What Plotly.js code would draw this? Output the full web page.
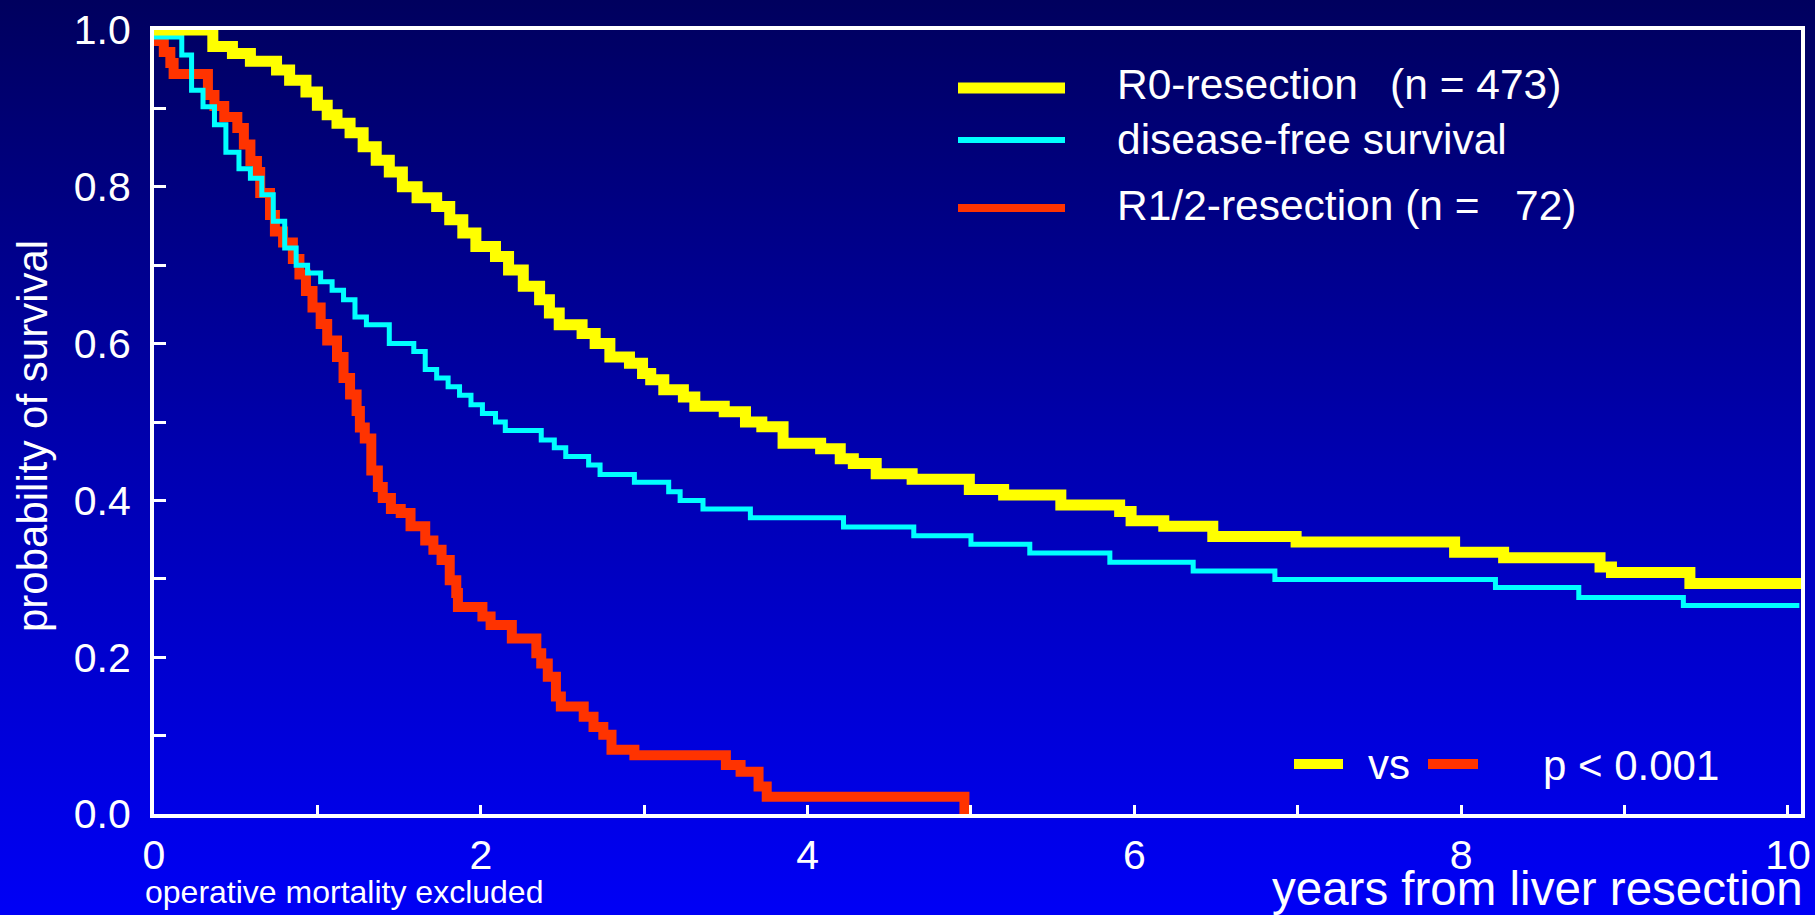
<!DOCTYPE html>
<html>
<head>
<meta charset="utf-8">
<script src="https://cdn.plot.ly/plotly-3.0.1.min.js"></script>
<style>
  html, body { margin: 0; padding: 0; }
  #chart {
    width: 1815px; height: 915px;
    background: linear-gradient(to bottom, #00005e 0%, #0000b0 50%, #0000f6 100%);
  }
</style>
</head>
<body>
<div id="chart"></div>
<script>
// ---- data ----
const yearsR0 = [0, 0.36, 0.48, 0.59, 0.75, 0.83, 0.93, 1.00, 1.06, 1.12, 1.20, 1.28, 1.36, 1.44, 1.52, 1.61, 1.73, 1.81, 1.89, 1.97, 2.09, 2.17, 2.26, 2.36, 2.42, 2.48, 2.62, 2.70, 2.79, 2.91, 2.99, 3.04, 3.12, 3.24, 3.31, 3.49, 3.62, 3.72, 3.85, 4.08, 4.20, 4.28, 4.42, 4.64, 4.99, 5.20, 5.55, 5.91, 5.98, 6.18, 6.48, 6.99, 7.96, 8.26, 8.85, 8.92, 9.40, 10.08];
const survR0  = [1.0, 0.979, 0.970, 0.960, 0.949, 0.936, 0.921, 0.904, 0.892, 0.881, 0.869, 0.851, 0.834, 0.819, 0.800, 0.786, 0.775, 0.758, 0.741, 0.724, 0.711, 0.694, 0.673, 0.656, 0.639, 0.624, 0.613, 0.600, 0.583, 0.575, 0.562, 0.554, 0.541, 0.532, 0.520, 0.513, 0.500, 0.494, 0.473, 0.466, 0.453, 0.447, 0.434, 0.427, 0.414, 0.407, 0.394, 0.386, 0.374, 0.367, 0.354, 0.347, 0.334, 0.327, 0.315, 0.308, 0.294, 0.294];

const yearsDFS = [0, 0.01, 0.17, 0.23, 0.30, 0.37, 0.44, 0.52, 0.59, 0.66, 0.73, 0.80, 0.87, 0.94, 1.02, 1.09, 1.16, 1.23, 1.30, 1.44, 1.59, 1.66, 1.73, 1.80, 1.87, 1.94, 2.01, 2.09, 2.15, 2.37, 2.45, 2.52, 2.66, 2.73, 2.94, 3.15, 3.22, 3.36, 3.65, 4.22, 4.65, 5.00, 5.36, 5.85, 6.36, 6.86, 8.21, 8.72, 9.36, 10.07];
const survDFS  = [1.0, 0.991, 0.968, 0.923, 0.902, 0.879, 0.844, 0.823, 0.811, 0.790, 0.756, 0.722, 0.700, 0.690, 0.679, 0.668, 0.656, 0.634, 0.624, 0.600, 0.590, 0.567, 0.556, 0.545, 0.534, 0.522, 0.511, 0.500, 0.489, 0.477, 0.467, 0.456, 0.445, 0.433, 0.423, 0.411, 0.400, 0.389, 0.378, 0.366, 0.355, 0.344, 0.333, 0.321, 0.310, 0.299, 0.289, 0.276, 0.266, 0.266];

const yearsR12 = [0, 0.03, 0.06, 0.10, 0.12, 0.33, 0.37, 0.43, 0.51, 0.55, 0.59, 0.63, 0.65, 0.71, 0.74, 0.79, 0.85, 0.89, 0.93, 0.97, 1.02, 1.06, 1.12, 1.16, 1.20, 1.24, 1.26, 1.29, 1.33, 1.37, 1.40, 1.45, 1.51, 1.57, 1.66, 1.71, 1.76, 1.81, 1.85, 1.86, 2.01, 2.06, 2.19, 2.34, 2.37, 2.41, 2.46, 2.49, 2.63, 2.69, 2.75, 2.80, 2.94, 3.50, 3.59, 3.70, 3.75, 4.96];
const survR12  = [1.0, 0.986, 0.972, 0.958, 0.944, 0.917, 0.903, 0.889, 0.875, 0.854, 0.833, 0.819, 0.792, 0.764, 0.743, 0.729, 0.708, 0.688, 0.667, 0.646, 0.625, 0.604, 0.583, 0.556, 0.535, 0.514, 0.493, 0.479, 0.438, 0.417, 0.403, 0.389, 0.384, 0.367, 0.349, 0.337, 0.324, 0.298, 0.282, 0.264, 0.252, 0.241, 0.224, 0.205, 0.192, 0.175, 0.150, 0.137, 0.124, 0.111, 0.101, 0.082, 0.075, 0.0625, 0.054, 0.035, 0.022, 0.0];

const seriesNames = ['R0-resection\u00A0\u00A0\u2009(n = 473)', 'disease-free survival', 'R1/2-resection (n =\u00A0\u00A0\u00A072)'];
const seriesColors = ['#ffff00', '#00ffff', '#ff3300'];
const xTickVals = [0, 2, 4, 6, 8, 10];
const xMinorVals = [1, 3, 5, 7, 9];

// ---- layout helpers (pixel -> paper) ----
const L = 154, R = 1801, T = 30, B = 814;
const PX = p => (p - L) / (R - L);
const PY = p => (B - p) / (B - T);
const FONT = 'Liberation Sans, Arial, Helvetica, sans-serif';

const traces = [
  {x: yearsR12, y: survR12, name: seriesNames[2], mode: 'lines', line: {shape: 'hv', color: seriesColors[2], width: 10}},
  {x: yearsDFS, y: survDFS, name: seriesNames[1], mode: 'lines', line: {shape: 'hv', color: seriesColors[1], width: 5}},
  {x: yearsR0,  y: survR0,  name: seriesNames[0], mode: 'lines', line: {shape: 'hv', color: seriesColors[0], width: 11}}
];

const legendRows = [
  {y: 88, ty: 84, w: 11, c: seriesColors[0], t: seriesNames[0]},
  {y: 140, ty: 139, w: 6, c: seriesColors[1], t: seriesNames[1]},
  {y: 208, ty: 205, w: 8, c: seriesColors[2], t: seriesNames[2]}
];

const shapes = legendRows.map(r => ({
  type: 'line', xref: 'paper', yref: 'paper',
  x0: PX(958), x1: PX(1065), y0: PY(r.y), y1: PY(r.y),
  line: {color: r.c, width: r.w}
}));
shapes.push({type: 'line', xref: 'paper', yref: 'paper', x0: PX(1294), x1: PX(1343), y0: PY(764), y1: PY(764), line: {color: seriesColors[0], width: 10}});
shapes.push({type: 'line', xref: 'paper', yref: 'paper', x0: PX(1428), x1: PX(1478), y0: PY(764), y1: PY(764), line: {color: seriesColors[2], width: 10}});

const annotations = legendRows.map(r => ({
  xref: 'paper', yref: 'paper', x: PX(1115), y: PY(r.ty), xanchor: 'left', yanchor: 'middle',
  text: r.t, showarrow: false, font: {family: FONT, size: 42.5, color: 'white'}
}));
annotations.push(
  {xref: 'paper', yref: 'paper', x: PX(1366), y: PY(764), xanchor: 'left', yanchor: 'middle', text: 'vs', showarrow: false, font: {family: FONT, size: 42, color: 'white'}},
  {xref: 'paper', yref: 'paper', x: PX(1541), y: PY(765), xanchor: 'left', yanchor: 'middle', text: 'p &lt; 0.001', showarrow: false, font: {family: FONT, size: 42, color: 'white'}},
  {xref: 'paper', yref: 'paper', x: PX(33), y: PY(436), xanchor: 'center', yanchor: 'middle', textangle: -90, text: 'probability of survival', showarrow: false, font: {family: FONT, size: 42, color: 'white'}},
  {xref: 'paper', yref: 'paper', x: PX(143), y: PY(892), xanchor: 'left', yanchor: 'middle', text: 'operative mortality excluded', showarrow: false, font: {family: FONT, size: 32, color: 'white'}},
  {xref: 'paper', yref: 'paper', x: PX(1805), y: PY(888), xanchor: 'right', yanchor: 'middle', text: 'years from liver resection', showarrow: false, font: {family: FONT, size: 47.5, color: 'white'}}
);

const layout = {
  width: 1815, height: 915,
  margin: {l: L, r: 1815 - R, t: T, b: 915 - B, pad: 0},
  paper_bgcolor: 'rgba(0,0,0,0)',
  plot_bgcolor: 'rgba(0,0,0,0)',
  font: {family: FONT, color: 'white'},
  showlegend: false,
  xaxis: {
    range: [0, 10.08], tickmode: 'array', tickvals: xTickVals,
    ticks: 'inside', ticklen: 9, tickwidth: 3, tickcolor: 'white',
    showline: true, linewidth: 4, linecolor: 'white', mirror: true,
    showgrid: false, zeroline: false,
    tickfont: {family: FONT, size: 41, color: 'white'},
    ticklabelstandoff: 2,
    minor: {tickmode: 'array', tickvals: xMinorVals, ticks: 'inside', ticklen: 9, tickwidth: 3, tickcolor: 'white', showgrid: false}
  },
  yaxis: {
    range: [0, 1], tickmode: 'linear', tick0: 0, dtick: 0.2, tickformat: '.1f',
    ticks: 'inside', ticklen: 12, tickwidth: 3, tickcolor: 'white',
    showline: true, linewidth: 4, linecolor: 'white', mirror: true,
    showgrid: false, zeroline: false,
    tickfont: {family: FONT, size: 41, color: 'white'},
    ticklabelstandoff: 11,
    minor: {tick0: 0, dtick: 0.1, ticks: 'inside', ticklen: 12, tickwidth: 3, tickcolor: 'white', showgrid: false}
  },
  shapes: shapes,
  annotations: annotations
};

Plotly.newPlot('chart', traces, layout, {displayModeBar: false, staticPlot: true});
</script>
</body>
</html>
